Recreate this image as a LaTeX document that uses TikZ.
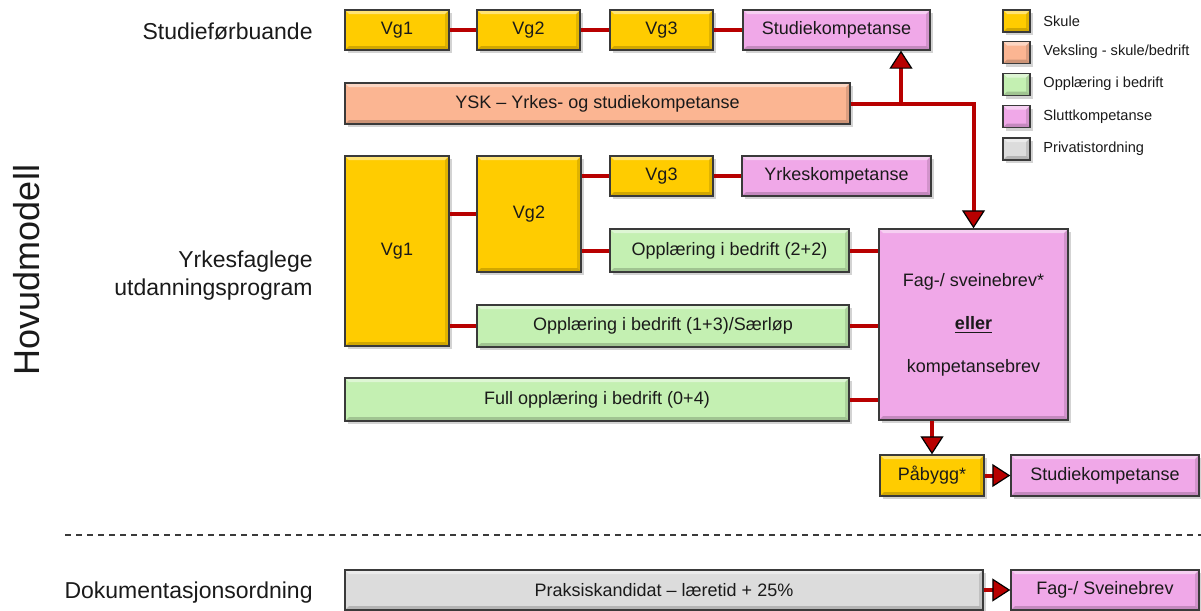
\documentclass[tikz,border=0pt]{standalone}
\usepackage{fontspec}
\setmainfont{Liberation Sans}
\usepackage{tikz}
\usetikzlibrary{positioning,arrows.meta,shadows}
\definecolor{skulecol}{HTML}{FFCC00}
\definecolor{vekscol}{HTML}{FBB592}
\definecolor{bedcol}{HTML}{C4F0B2}
\definecolor{sluttcol}{HTML}{F0A8E8}
\definecolor{privcol}{HTML}{DCDCDC}
\definecolor{boxline}{HTML}{3A3A3A}
\definecolor{connred}{HTML}{B80000}
\definecolor{txt}{HTML}{1A1A1A}
\tikzset{
  bevel/.style={path picture={
      \fill[white, opacity=.45] (path picture bounding box.north west) -- (path picture bounding box.north east)
        -- ([shift={(-2pt,-2pt)}]path picture bounding box.north east) -- ([shift={(2pt,-2pt)}]path picture bounding box.north west) -- cycle;
      \fill[black, opacity=.18] (path picture bounding box.south west) -- (path picture bounding box.south east)
        -- ([shift={(-2pt,2pt)}]path picture bounding box.south east) -- ([shift={(2pt,2pt)}]path picture bounding box.south west) -- cycle;
      \fill[black, opacity=.12] (path picture bounding box.north east) -- (path picture bounding box.south east)
        -- ([shift={(-2pt,2pt)}]path picture bounding box.south east) -- ([shift={(-2pt,-2pt)}]path picture bounding box.north east) -- cycle;}},
  box/.style={rectangle, draw=boxline, line width=0.7pt, inner sep=1pt, text=txt, font=\fontsize{9}{11}\selectfont,
              minimum height=20pt, bevel, drop shadow={shadow xshift=1.5pt, shadow yshift=-1.5pt, opacity=.35}},
  skule/.style={box, fill=skulecol},
  veksling/.style={box, fill=vekscol},
  bedrift/.style={box, fill=bedcol},
  slutt/.style={box, fill=sluttcol},
  privat/.style={box, fill=privcol},
  legendbox/.style={minimum width=13.5pt, minimum height=11pt, inner sep=0pt},
  legendtext/.style={anchor=west, inner sep=0pt, text=txt, font=\fontsize{7.3}{9}\selectfont},
  sidelabel/.style={anchor=east, inner sep=0pt, align=right, text=txt, font=\fontsize{11.5}{14}\selectfont},
  conn/.style={draw=connred, line width=2pt},
  tip/.style={-{Triangle[length=9pt, width=11.5pt, color=black, fill=connred, line width=0.6pt]}},
}

\begin{document}
\begin{tikzpicture}[x=0.5pt, y=-0.5pt]
  \useasboundingbox (0,0) rectangle (1201,611);

  % side labels
  \node[rotate=90, text=txt, font=\fontsize{18}{20}\selectfont] (hovud) at (27,270) {Hovudmodell};
  \node[sidelabel] (studlab) at (313,31) {Studieførbuande};
  \node[sidelabel] (yrkelab) at (313,276) {Yrkesfaglege\\utdanningsprogram};
  \node[sidelabel] (doklab) at (313,593) {Dokumentasjonsordning};

  % studieforbuande
  \node[skule, minimum width=52pt] (vg1a) at (397,30) {Vg1};
  \node[skule, minimum width=51.5pt] (vg2a) at (528.5,30) {Vg2};
  \node[skule, minimum width=51.5pt] (vg3a) at (661.5,30) {Vg3};
  \node[slutt, minimum width=93.5pt] (studkomp) at (836.5,30) {Studiekompetanse};
  \node[veksling, minimum width=252.5pt, minimum height=20.5pt] (ysk) at (597.5,103.5) {YSK -- Yrkes- og studiekompetanse};

  % yrkesfaglege
  \node[skule, minimum width=52pt, minimum height=95pt] (vg1b) at (397,251) {Vg1};
  \node[skule, minimum width=52pt, minimum height=58pt] (vg2b) at (529,214) {Vg2};
  \node[skule, minimum width=51.5pt] (vg3b) at (661.5,176) {Vg3};
  \node[slutt, minimum width=94.5pt] (yrkomp) at (836.5,176) {Yrkeskompetanse};
  \node[bedrift, minimum width=119.5pt, minimum height=21.5pt] (obd22) at (729.5,250.5) {Opplæring i bedrift (2+2)};
  \node[bedrift, minimum width=186pt, minimum height=21pt] (obd13) at (663,326) {Opplæring i bedrift (1+3)/Særløp};
  \node[bedrift, minimum width=252pt, minimum height=21.5pt] (obd04) at (597,399.5) {Full opplæring i bedrift (0+4)};
  \node[slutt, minimum width=94.5pt, minimum height=95.5pt, align=center, font=\fontsize{9}{21.5}\selectfont] (fag) at (973.5,324.5)
    {Fag-/ sveinebrev*\\\underline{\textbf{eller}}\\kompetansebrev};
  \node[skule, minimum width=52pt, minimum height=20.5pt] (pabygg) at (932,475.5) {Påbygg*};
  \node[slutt, minimum width=94pt, minimum height=20.5pt] (studkomp2) at (1105,475.5) {Studiekompetanse};

  % dokumentasjonsordning
  \node[privat, minimum width=319pt] (praksis) at (664,590) {Praksiskandidat -- læretid + 25\%};
  \node[slutt, minimum width=94pt] (fagsvein) at (1105,590) {Fag-/ Sveinebrev};

  % legend
  \node[skule, legendbox] (leg1) at (1016.5,21) {};
  \node[veksling, legendbox] (leg2) at (1016.5,52.5) {};
  \node[bedrift, legendbox] (leg3) at (1016.5,84.5) {};
  \node[slutt, legendbox] (leg4) at (1016.5,116.5) {};
  \node[privat, legendbox] (leg5) at (1016.5,149) {};
  \node[legendtext] at (1043,21) {Skule};
  \node[legendtext] at (1043,52) {Veksling - skule/bedrift};
  \node[legendtext] at (1043,84) {Opplæring i bedrift};
  \node[legendtext] at (1043,117) {Sluttkompetanse};
  \node[legendtext] at (1043,149) {Privatistordning};

  % connectors
  \draw[conn] (vg1a) -- (vg2a);
  \draw[conn] (vg2a) -- (vg3a);
  \draw[conn] (vg3a) -- (studkomp);
  \coordinate (split) at (901,103.5);
  \draw[conn, tip] (split) -- (split |- studkomp.south);
  \draw[conn, tip] (ysk.east) -- (ysk.east -| fag.north) -- (fag.north);

  \draw[conn] (vg2b.west -| vg1b.east) -- (vg2b.west);
  \draw[conn] (vg3b.west -| vg2b.east) -- (vg3b.west);
  \draw[conn] (vg3b) -- (yrkomp);
  \draw[conn] (obd22.west -| vg2b.east) -- (obd22.west);
  \draw[conn] (obd13.west -| vg1b.east) -- (obd13.west);
  \draw[conn] (obd22.east) -- (obd22.east -| fag.west);
  \draw[conn] (obd13.east) -- (obd13.east -| fag.west);
  \draw[conn] (obd04.east) -- (obd04.east -| fag.west);
  \draw[conn, tip] (pabygg.north |- fag.south) -- (pabygg.north);
  \draw[conn, tip] (pabygg) -- (studkomp2);
  \draw[conn, tip] (praksis) -- (fagsvein);

  % separator
  \coordinate (sepL) at (65,535);
  \coordinate (sepR) at (1201,535);
  \draw[boxline, line width=1pt, dash pattern=on 3pt off 2.5pt] (sepL) -- (sepR);
\end{tikzpicture}
\end{document}
